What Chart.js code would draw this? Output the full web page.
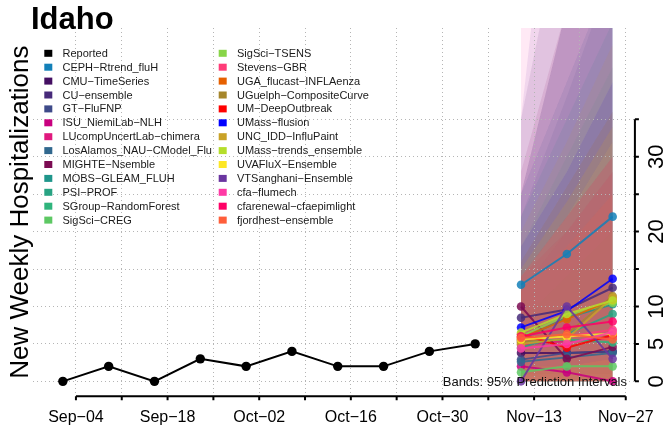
<!DOCTYPE html>
<html><head><meta charset="utf-8">
<script src="https://cdn.jsdelivr.net/npm/chart.js@4.4.0/dist/chart.umd.min.js"></script>
<style>html,body{margin:0;padding:0;background:#fff;}#wrap{width:666px;height:431px;position:relative;}</style>
</head><body><div id="wrap"><canvas id="c" width="666" height="431"></canvas></div>
<script>
// ---------- data ----------
const stateName = 'Idaho';
const yTitle = 'New Weekly Hospitalizations';
const bandsNote = 'Bands: 95% Prediction Intervals';

const reportedDates = ['2023-09-02','2023-09-09','2023-09-16','2023-09-23','2023-09-30','2023-10-07','2023-10-14','2023-10-21','2023-10-28','2023-11-04'];
const reportedValues = [0, 2, 0, 3, 2, 4, 2, 2, 4, 5];

const forecastDates = ['2023-11-11','2023-11-18','2023-11-25'];

const modelNames = ['CEPH−Rtrend_fluH','CMU−TimeSeries','CU−ensemble','GT−FluFNP','ISU_NiemiLab−NLH','LUcompUncertLab−chimera','LosAlamos_NAU−CModel_Flu','MIGHTE−Nsemble','MOBS−GLEAM_FLUH','PSI−PROF','SGroup−RandomForest','SigSci−CREG','SigSci−TSENS','Stevens−GBR','UGA_flucast−INFLAenza','UGuelph−CompositeCurve','UM−DeepOutbreak','UMass−flusion','UNC_IDD−InfluPaint','UMass−trends_ensemble','UVAFluX−Ensemble','VTSanghani−Ensemble','cfa−flumech','cfarenewal−cfaepimlight','fjordhest−ensemble'];
const modelColors = ['#1380b8','#440f62','#472a7a','#3e4a89','#c8007f','#e0197e','#31688e','#7b0b52','#1f968b','#29a383','#2fb47c','#5dc863','#88d548','#ff3c78','#e66000','#a6862b','#ff0000','#0000ff','#c9a227','#b5de2b','#fde725','#6a35a0','#ff3aa5','#ff0066','#ff5e3a'];

// point forecasts (median) per horizon, in model order
const medianNov11 = [12.9, 3.8, 8.5, 2.9, 2.0, 4.9, 2.6, 10.0, 5.6, 4.5, 5.4, 1.2, 6.0, 5.4, 5.8, 5.2, 6.3, 7.2, 5.0, 6.5, 5.6, 0.0, 4.4, 6.0, 5.8];
const medianNov18 = [17.0, 3.8, 9.6, 3.8, 1.2, 5.4, 3.2, 3.0, 8.5, 6.3, 5.6, 2.0, 8.8, 6.0, 8.3, 6.3, 4.5, 9.4, 5.7, 9.0, 6.0, 10.0, 5.0, 7.2, 6.3];
const medianNov25 = [22.0, 4.0, 12.5, 4.0, 0.0, 5.8, 3.8, 4.6, 10.3, 9.0, 5.2, 2.0, 10.5, 6.9, 10.9, 11.4, 6.2, 13.7, 11.2, 10.8, 6.4, 3.0, 6.6, 8.0, 5.6];
// 95% interval bounds per horizon
const lowerNov11 = [4, 0, 1, 0, 0, 0, 0, 1, 0, 0, 0, 0, 0, 0, 0, 0, 0, 2, 0, 0, 0, 0, 0, 0, 0];
const lowerNov18 = [5, 0, 1, 0, 0, 0, 0, 0, 0, 0, 0, 0, 0, 0, 0, 0, 0, 2, 0, 0, 0, 0, 0, 0, 0];
const lowerNov25 = [6, 0, 1, 0, 0, 0, 0, 0, 0, 0, 0, 0, 0, 0, 0, 0, 0, 3, 0, 0, 0, 0, 0, 0, 0];
const upperNov11 = [25, 25, 35, 25, 12, 16, 22, 28, 22, 18, 14, 8, 16, 14, 15, 16, 14, 18, 20, 15, 14, 35, 60, 14, 12];
const upperNov18 = [40, 50, 65, 50, 20, 26, 38, 50, 35, 30, 22, 14, 26, 22, 24, 26, 20, 28, 32, 24, 22, 90, 80, 22, 18];
const upperNov25 = [55, 75, 95, 75, 28, 36, 55, 70, 48, 42, 30, 20, 36, 30, 34, 36, 28, 40, 45, 34, 32, 130, 100, 30, 25];

const xTickDates = ['2023-09-04','2023-09-11','2023-09-18','2023-09-25','2023-10-02','2023-10-09','2023-10-16','2023-10-23','2023-10-30','2023-11-06','2023-11-13','2023-11-20','2023-11-27'];
const xTickLabels = ['Sep−04','','Sep−18','','Oct−02','','Oct−16','','Oct−30','','Nov−13','','Nov−27'];
const yTickValues = [0, 5, 10, 15, 20, 25, 30, 35];
const yTickLabels = ['0', '5', '10', '', '20', '', '30', ''];

// ---------- helpers ----------
const DAY0 = Date.UTC(2023, 8, 4);
function toDay(s) { const p = s.split('-').map(Number); return (Date.UTC(p[0], p[1] - 1, p[2]) - DAY0) / 86400000; }
function rgba(hex, a) {
  const n = parseInt(hex.slice(1), 16);
  return 'rgba(' + ((n >> 16) & 255) + ',' + ((n >> 8) & 255) + ',' + (n & 255) + ',' + a + ')';
}
const FONT = "'Liberation Sans', Arial, Helvetica, sans-serif";
const medians = [medianNov11, medianNov18, medianNov25];
const lowers = [lowerNov11, lowerNov18, lowerNov25];
const uppers = [upperNov11, upperNov18, upperNov25];
const fDays = forecastDates.map(toDay);

const datasets = [];
modelNames.forEach((name, i) => {
  datasets.push({
    label: name + ' 95% upper',
    data: fDays.map((d, h) => ({x: d, y: uppers[h][i]})),
    borderWidth: 0, pointRadius: 0, fill: '+1',
    backgroundColor: rgba(modelColors[i], 0.11), order: 300 - i
  });
  datasets.push({
    label: name + ' 95% lower',
    data: fDays.map((d, h) => ({x: d, y: lowers[h][i]})),
    borderWidth: 0, pointRadius: 0, fill: false, order: 300 - i
  });
});
modelNames.forEach((name, i) => {
  datasets.push({
    label: name,
    data: fDays.map((d, h) => ({x: d, y: medians[h][i]})),
    borderColor: rgba(modelColors[i], 0.85), backgroundColor: rgba(modelColors[i], 0.85),
    pointBackgroundColor: rgba(modelColors[i], 0.85), pointBorderWidth: 0,
    borderWidth: 2, pointRadius: 4.3, fill: false, order: 100 - i, swatch: modelColors[i]
  });
});
datasets.push({
  label: 'Reported',
  data: reportedDates.map((d, k) => ({x: toDay(d), y: reportedValues[k]})),
  borderColor: '#000', backgroundColor: '#000', pointBackgroundColor: '#000', pointBorderWidth: 0,
  borderWidth: 2, pointRadius: 4.7, fill: false, order: 0, swatch: '#000'
});

// ---------- decorations plugin (axes, title, legend, notes) ----------
const decor = {
  id: 'decor',
  afterDraw(chart) {
    const ctx = chart.ctx, ca = chart.chartArea;
    const xs = chart.scales.x, ys = chart.scales.y;
    ctx.save();
    ctx.strokeStyle = '#000'; ctx.fillStyle = '#000'; ctx.lineWidth = 2; ctx.lineCap = 'butt';
    // x axis
    const xd = xTickDates.map(toDay);
    const yb = ca.bottom;
    ctx.beginPath();
    ctx.moveTo(xs.getPixelForValue(xd[0]), yb);
    ctx.lineTo(xs.getPixelForValue(xd[xd.length - 1]), yb);
    xd.forEach(d => { const px = xs.getPixelForValue(d); ctx.moveTo(px, yb); ctx.lineTo(px, yb + 4); });
    ctx.stroke();
    // y axis (right)
    const xr = ca.right;
    ctx.beginPath();
    ctx.moveTo(xr, ys.getPixelForValue(yTickValues[0]));
    ctx.lineTo(xr, ys.getPixelForValue(yTickValues[yTickValues.length - 1]));
    yTickValues.forEach(v => { const py = ys.getPixelForValue(v); ctx.moveTo(xr, py); ctx.lineTo(xr + 4, py); });
    ctx.stroke();
    ctx.font = '22px ' + FONT; ctx.textAlign = 'center'; ctx.textBaseline = 'alphabetic';
    yTickValues.forEach((v, k) => {
      if (!yTickLabels[k]) return;
      ctx.save(); ctx.translate(662.5, ys.getPixelForValue(v)); ctx.rotate(-Math.PI / 2);
      ctx.fillText(yTickLabels[k], 0, 0); ctx.restore();
    });
    // y title
    ctx.save(); ctx.font = '26px ' + FONT; ctx.translate(28, (ca.top + ca.bottom) / 2); ctx.rotate(-Math.PI / 2);
    ctx.textAlign = 'center'; ctx.fillText(yTitle, 0, 0); ctx.restore();
    // title
    ctx.font = 'bold 31px ' + FONT; ctx.textAlign = 'left'; ctx.fillText(stateName, 31, 28.5);
    // bands note
    ctx.font = '13px ' + FONT; ctx.textAlign = 'right'; ctx.fillStyle = '#111';
    ctx.fillText(bandsNote, 627, ys.getPixelForValue(0) + 4.5);
    // legend
    const items = chart.data.datasets.filter(d => d.swatch);
    const ordered = [items[items.length - 1]].concat(items.slice(0, items.length - 1));
    ctx.font = '11px ' + FONT; ctx.textAlign = 'left'; ctx.textBaseline = 'middle';
    ordered.forEach((d, k) => {
      const col = k < 13 ? 0 : 1, row = k % 13;
      const y = 53.3 + row * 13.9;
      const sx = col === 0 ? 44.3 : 218.7, tx = col === 0 ? 62.5 : 237;
      ctx.fillStyle = d.swatch; ctx.fillRect(sx, y - 3.5, 8, 7);
      ctx.fillStyle = '#1a1a1a'; ctx.fillText(d.label, tx, y + 0.5);
    });
    ctx.restore();
  }
};

const xDays = xTickDates.map(toDay);
new Chart(document.getElementById('c'), {
  type: 'line',
  data: {datasets},
  options: {
    responsive: false, animation: false, devicePixelRatio: 1,
    layout: {padding: {left: 33, right: 30, top: 28, bottom: -8.5}},
    plugins: {legend: {display: false}, tooltip: {enabled: false}, title: {display: false},
      filler: {drawTime: 'beforeDraw'}},
    scales: {
      x: {
        type: 'linear', min: -6.56, max: 85.4,
        afterBuildTicks: s => { s.ticks = xDays.map(v => ({value: v})); },
        ticks: {autoSkip: false, maxRotation: 0, minRotation: 0, padding: 12, color: '#000',
          font: {size: 16, family: FONT}, callback: (v, i) => xTickLabels[i]},
        grid: {color: '#b5b5b5', lineWidth: 1, drawTicks: false},
        border: {display: false, dash: [1, 3]}
      },
      y: {
        type: 'linear', position: 'right', min: -2, max: 47.2,
        afterBuildTicks: s => { s.ticks = yTickValues.map(v => ({value: v})); },
        ticks: {display: false},
        grid: {color: '#b5b5b5', lineWidth: 1, drawTicks: false},
        border: {display: false, dash: [1, 3]}
      }
    }
  },
  plugins: [decor]
});
</script></body></html>
